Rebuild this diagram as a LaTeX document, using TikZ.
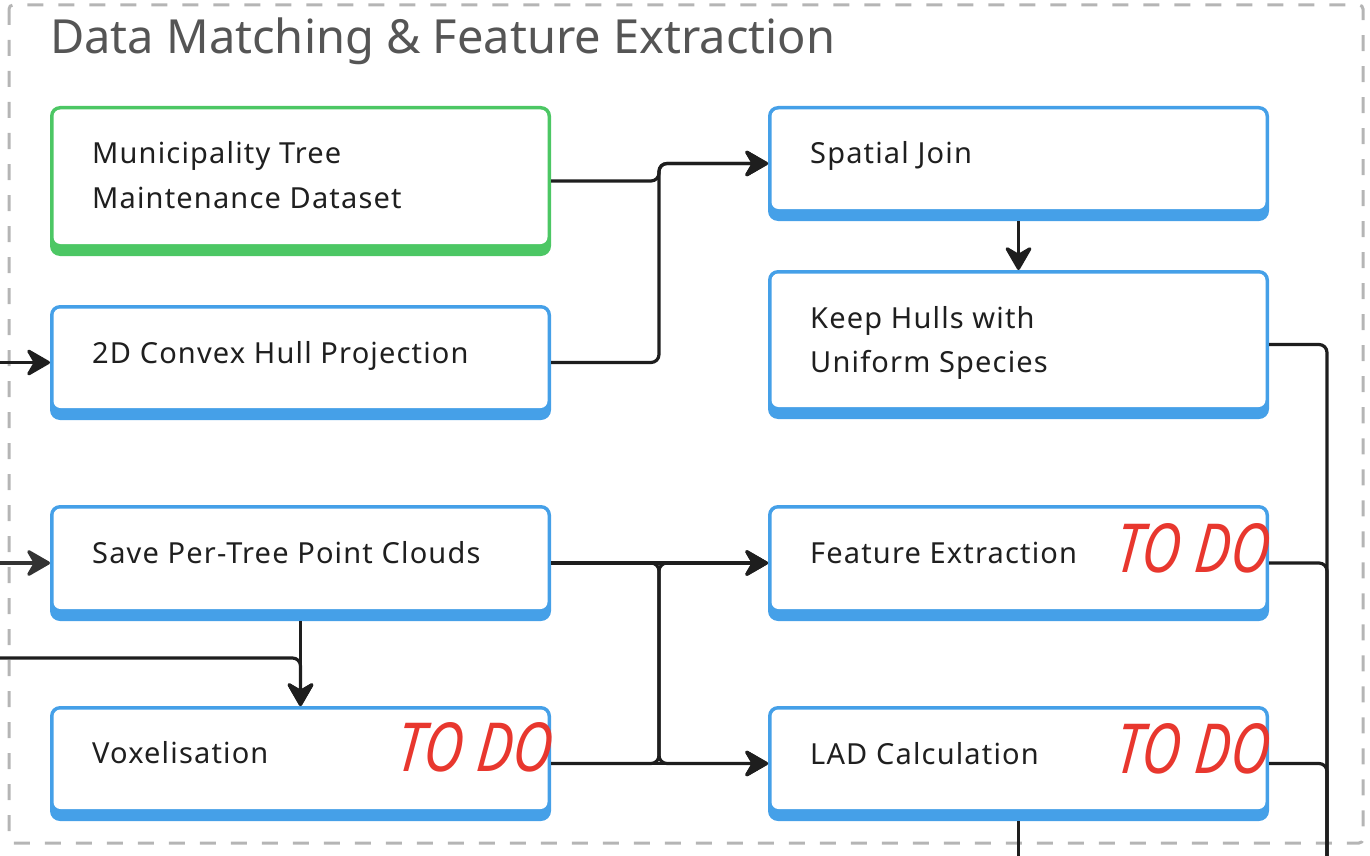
\documentclass[tikz,border=0pt]{standalone}
\usepackage{fontspec}
\usepackage{graphicx}
\setmainfont{Noto Sans}
\newfontfamily\todofont{Noto Sans}[FakeSlant=0.12]
\usetikzlibrary{arrows.meta}
\definecolor{boxblue}{HTML}{45A0E8}
\definecolor{boxgreen}{HTML}{4CC764}
\definecolor{conncol}{HTML}{1E1E1E}
\definecolor{titlegray}{HTML}{555555}
\definecolor{dashgray}{HTML}{B5B5B5}
\definecolor{todored}{HTML}{E8372E}
\tikzset{
  box/.style={rectangle, rounded corners=10pt, minimum width=501pt, inner sep=0pt, outer sep=0pt, draw=none, fill=#1,
    path picture={\fill[white, rounded corners=7pt]
      ([xshift=3.5pt,yshift=-3.5pt]path picture bounding box.north west) rectangle
      ([xshift=-3.5pt,yshift=12pt]path picture bounding box.south east);}},
  lbl/.style={anchor=base west, inner sep=0pt, font=\fontsize{29}{44}\selectfont\addfontfeature{LetterSpace=4}, text=black!88},
  todo/.style={anchor=south east, inner sep=0pt, text=todored},
  conn/.style={draw=conncol, line width=3.2pt, rounded corners=8pt},
  arr/.style={conn, -{Stealth[length=27pt,width=31pt,inset=9pt,round]}},
}
\begin{document}
\begin{tikzpicture}[x=1pt,y=-1pt]
\useasboundingbox (0,0) rectangle (1370,856);
% group frame
\draw[dashgray, line width=3pt, dash pattern=on 16pt off 15pt, rounded corners=4pt] (9,5) rectangle (1363,843);
\node[anchor=base west, inner sep=0pt, text=titlegray, font=\fontsize{47}{50}\selectfont] (title) at (50,54) {Data Matching \& Feature Extraction};

% boxes
\node[box=boxgreen, minimum height=150pt] (mun) at (300.5,181) {};
\node[box=boxblue, minimum height=115pt] (hull) at (300.5,362.5) {};
\node[box=boxblue, minimum height=116pt] (save) at (300.5,563) {};
\node[box=boxblue, minimum height=115pt] (vox) at (300.5,763.5) {};
\node[box=boxblue, minimum height=115pt] (spatial) at (1018.5,163.5) {};
\node[box=boxblue, minimum height=149pt] (keep) at (1018.5,344.5) {};
\node[box=boxblue, minimum height=116pt] (feat) at (1018.5,563) {};
\node[box=boxblue, minimum height=115pt] (lad) at (1018.5,763.5) {};

% labels
\node[lbl] (munA) at (92,164) {Municipality Tree};
\node[lbl] (munB) at (92,208) {Maintenance Dataset};
\node[lbl] (hullT) at (92,363) {2D Convex Hull Projection};
\node[lbl] (saveT) at (92,563) {Save Per-Tree Point Clouds};
\node[lbl] (voxT) at (92,763) {Voxelisation};
\node[lbl] (spatialT) at (810,164) {Spatial Join};
\node[lbl] (keepA) at (810,328) {Keep Hulls with};
\node[lbl] (keepB) at (810,372) {Uniform Species};
\node[lbl] (featT) at (810,563) {Feature Extraction};
\node[lbl] (ladT) at (810,764) {LAD Calculation};

% TO DO marks
\node[todo] (todoF) at (1268,573) {\resizebox{153pt}{49pt}{\todofont\itshape TO DO}};
\node[todo] (todoV) at (551,772) {\resizebox{155pt}{49pt}{\todofont\itshape TO DO}};
\node[todo] (todoL) at (1268,774) {\resizebox{153pt}{50pt}{\todofont\itshape TO DO}};

% free ends
\coordinate (inHull) at (0,362.5);
\coordinate (inSave) at (0,563);
\coordinate (inVox) at (0,658);
\coordinate (outR) at (1327,860);
\coordinate (outL) at (1018.5,860);

% connectors
\draw[arr] (inHull) -- (hull.west);
\draw[arr, draw=black!80] (inSave) -- (save.west);
\draw[arr] (inVox) -| (vox.north);
\draw[arr] (save.south) -- (vox.north);
\draw[arr] (mun.east) -- ++(108,0) |- (spatial.west);
\draw[arr] (hull.east) -- ++(108,0) |- (spatial.west);
\draw[arr] (save.east) -- (feat.west);
\draw[arr] (save.east) -- ++(108,0) |- (lad.west);
\draw[arr] (vox.east) -- ++(108,0) |- (feat.west);
\draw[arr] (vox.east) -- (lad.west);
\draw[arr] (spatial.south) -- (keep.north);
\draw[conn] (keep.east) -| (outR);
\draw[conn] (feat.east) -| (outR);
\draw[conn] (lad.east) -| (outR);
\draw[conn] (lad.south) -- (outL);
\end{tikzpicture}
\end{document}
